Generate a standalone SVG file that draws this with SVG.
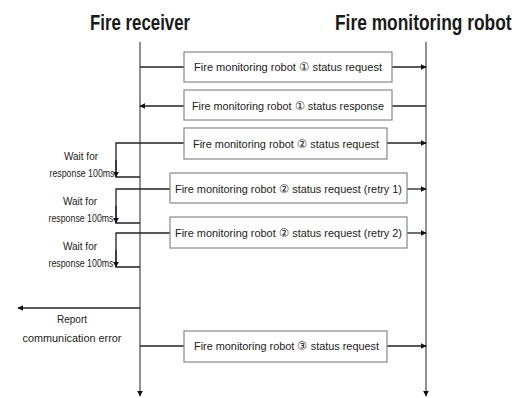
<svg xmlns="http://www.w3.org/2000/svg" width="520" height="398" viewBox="0 0 520 398">
<style>
.title{font-family:"Liberation Sans",Arial,sans-serif;font-size:22px;font-weight:bold;fill:#1a1a1a}
.bt{font-family:"Liberation Sans",Arial,sans-serif;font-size:11.5px;fill:#222}
.lb{font-family:"Liberation Sans",Arial,sans-serif;font-size:10px;fill:#222;text-anchor:middle}
.box{fill:#fff;stroke:#888;stroke-width:1.2}
.ln{fill:none;stroke:#222;stroke-width:1.3}
.life{fill:none;stroke:#555;stroke-width:1.3}
</style>
<defs>
<marker id="ah" viewBox="0 0 10 10" refX="9" refY="5" markerWidth="6" markerHeight="6" markerUnits="userSpaceOnUse" orient="auto">
<path d="M0,0 L10,5 L0,10 z" fill="#111"/>
</marker>
</defs>
<rect width="520" height="398" fill="#fff"/>
<text class="title" transform="translate(90,30) scale(0.765,1)">Fire receiver</text>
<text class="title" transform="translate(335,30) scale(0.79,1)">Fire monitoring robot</text>
<g id="connectors">
<line class="life" x1="140" y1="42" x2="140" y2="396" marker-end="url(#ah)"/>
<line class="life" x1="426" y1="42" x2="426" y2="396" marker-end="url(#ah)"/>
<line class="ln" x1="140" y1="67" x2="184" y2="67"/>
<line class="ln" x1="392" y1="67" x2="426" y2="67" marker-end="url(#ah)"/>
<line class="ln" x1="426" y1="106" x2="392" y2="106"/>
<line class="ln" x1="184" y1="106" x2="140" y2="106" marker-end="url(#ah)"/>
<path class="ln" d="M184,143 H116 V177 H140"/>
<line class="ln" x1="387" y1="143" x2="426" y2="143" marker-end="url(#ah)"/>
<path class="ln" d="M170,189 H116 V223 H140"/>
<line class="ln" x1="407" y1="189" x2="426" y2="189" marker-end="url(#ah)"/>
<path class="ln" d="M170,233 H116 V267 H140"/>
<line class="ln" x1="407" y1="233" x2="426" y2="233" marker-end="url(#ah)"/>
<line class="ln" x1="116" y1="160" x2="116" y2="177" marker-end="url(#ah)"/>
<line class="ln" x1="116" y1="206" x2="116" y2="223" marker-end="url(#ah)"/>
<line class="ln" x1="116" y1="250" x2="116" y2="267" marker-end="url(#ah)"/>
<line class="ln" x1="140" y1="308" x2="18" y2="308" marker-end="url(#ah)"/>
<line class="ln" x1="140" y1="346" x2="184" y2="346"/>
<line class="ln" x1="387" y1="346" x2="426" y2="346" marker-end="url(#ah)"/>
</g>
<g id="msg1">
<rect class="box" x="184" y="52" width="208" height="30"/>
<text class="bt" x="194" y="71" textLength="188" lengthAdjust="spacingAndGlyphs">Fire monitoring robot ① status request</text>
</g>
<g id="msg2">
<rect class="box" x="184" y="90" width="208" height="30"/>
<text class="bt" x="192" y="110" textLength="192" lengthAdjust="spacingAndGlyphs">Fire monitoring robot ① status response</text>
</g>
<g id="msg3">
<rect class="box" x="184" y="128" width="203" height="31"/>
<text class="bt" x="193" y="148" textLength="186" lengthAdjust="spacingAndGlyphs">Fire monitoring robot ② status request</text>
</g>
<g id="msg4">
<rect class="box" x="170" y="173" width="237" height="30"/>
<text class="bt" x="175" y="193" textLength="227" lengthAdjust="spacingAndGlyphs">Fire monitoring robot ② status request (retry 1)</text>
</g>
<g id="msg5">
<rect class="box" x="170" y="217" width="237" height="31"/>
<text class="bt" x="175" y="237" textLength="227" lengthAdjust="spacingAndGlyphs">Fire monitoring robot ② status request (retry 2)</text>
</g>
<g id="msg6">
<rect class="box" x="184" y="331" width="203" height="31"/>
<text class="bt" x="194" y="350" textLength="185" lengthAdjust="spacingAndGlyphs">Fire monitoring robot ③ status request</text>
</g>
<g id="wait1">
<text class="lb" x="81" y="160">Wait for</text>
<text class="lb" x="82" y="177" textLength="65" lengthAdjust="spacingAndGlyphs">response 100ms</text>
</g>
<g id="wait2">
<text class="lb" x="80" y="205">Wait for</text>
<text class="lb" x="81" y="222" textLength="65" lengthAdjust="spacingAndGlyphs">response 100ms</text>
</g>
<g id="wait3">
<text class="lb" x="80" y="250">Wait for</text>
<text class="lb" x="81" y="267" textLength="65" lengthAdjust="spacingAndGlyphs">response 100ms</text>
</g>
<g id="report">
<text class="lb" x="72" y="323" font-size="11">Report</text>
<text class="lb" x="72" y="342" font-size="11" textLength="99" lengthAdjust="spacingAndGlyphs">communication error</text>
</g>
</svg>
